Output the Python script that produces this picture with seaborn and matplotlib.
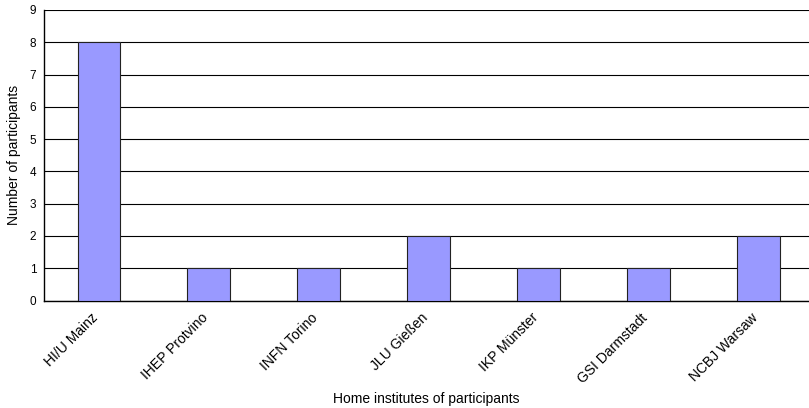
import numpy as np
import pandas as pd
import matplotlib
matplotlib.use('Agg')
import matplotlib.pyplot as plt
import seaborn as sns

institutes = ['HI/U Mainz', 'IHEP Protvino', 'INFN Torino', 'JLU Gießen',
              'IKP Münster', 'GSI Darmstadt', 'NCBJ Warsaw']
participants = [8, 1, 1, 2, 1, 1, 2]

df = pd.DataFrame({'institute': institutes, 'participants': participants})

sns.set_style('white')
plt.rcParams['font.family'] = ['Liberation Sans', 'DejaVu Sans']
plt.rcParams['text.color'] = 'black'
plt.rcParams['xtick.color'] = 'black'
plt.rcParams['ytick.color'] = 'black'
plt.rcParams['axes.labelcolor'] = 'black'

fig = plt.figure(figsize=(8.09, 4.08), dpi=100)
ax = fig.add_axes([44 / 809, 1 - 300.5 / 408, 1 - 44 / 809, 290.5 / 408])

sns.barplot(data=df, x='institute', y='participants', color='#9999FF',
            saturation=1, width=0.39, edgecolor='#222222', linewidth=0.8,
            ax=ax, zorder=3)

ax.set_ylim(0, 9)
ax.set_xlim(-0.5, 6.46)
ax.set_yticks(range(0, 10))
ax.yaxis.grid(True, color='black', linewidth=0.8, zorder=0)
ax.set_axisbelow(True)

# ticks sit between categories, labels at category centres
ax.set_xticks(np.arange(len(institutes)))
ax.set_xticklabels(institutes, rotation=45, ha='right', va='baseline',
                   rotation_mode='anchor', fontsize=10)
ax.set_xticks(np.arange(0.5, len(institutes) - 0.5), minor=True)
ax.tick_params(axis='x', which='major', length=0, pad=13)
ax.tick_params(axis='x', which='minor', length=3.6, width=0.8, direction='out')
ax.tick_params(axis='y', length=3.6, width=0.8, direction='out', pad=2, labelsize=8.5)

for s in ['top', 'right']:
    ax.spines[s].set_visible(False)
for s in ['left', 'bottom']:
    ax.spines[s].set_color('black')
    ax.spines[s].set_linewidth(1.0)

ax.set_ylabel('Number of participants', fontsize=10, va='center')
ax.set_xlabel('Home institutes of participants', fontsize=10, va='center')
ax.yaxis.set_label_coords(-30 / 765, 0.5)
ax.xaxis.set_label_coords(0.5, -99 / 290.5)

fig.savefig('out.png', dpi=100)
